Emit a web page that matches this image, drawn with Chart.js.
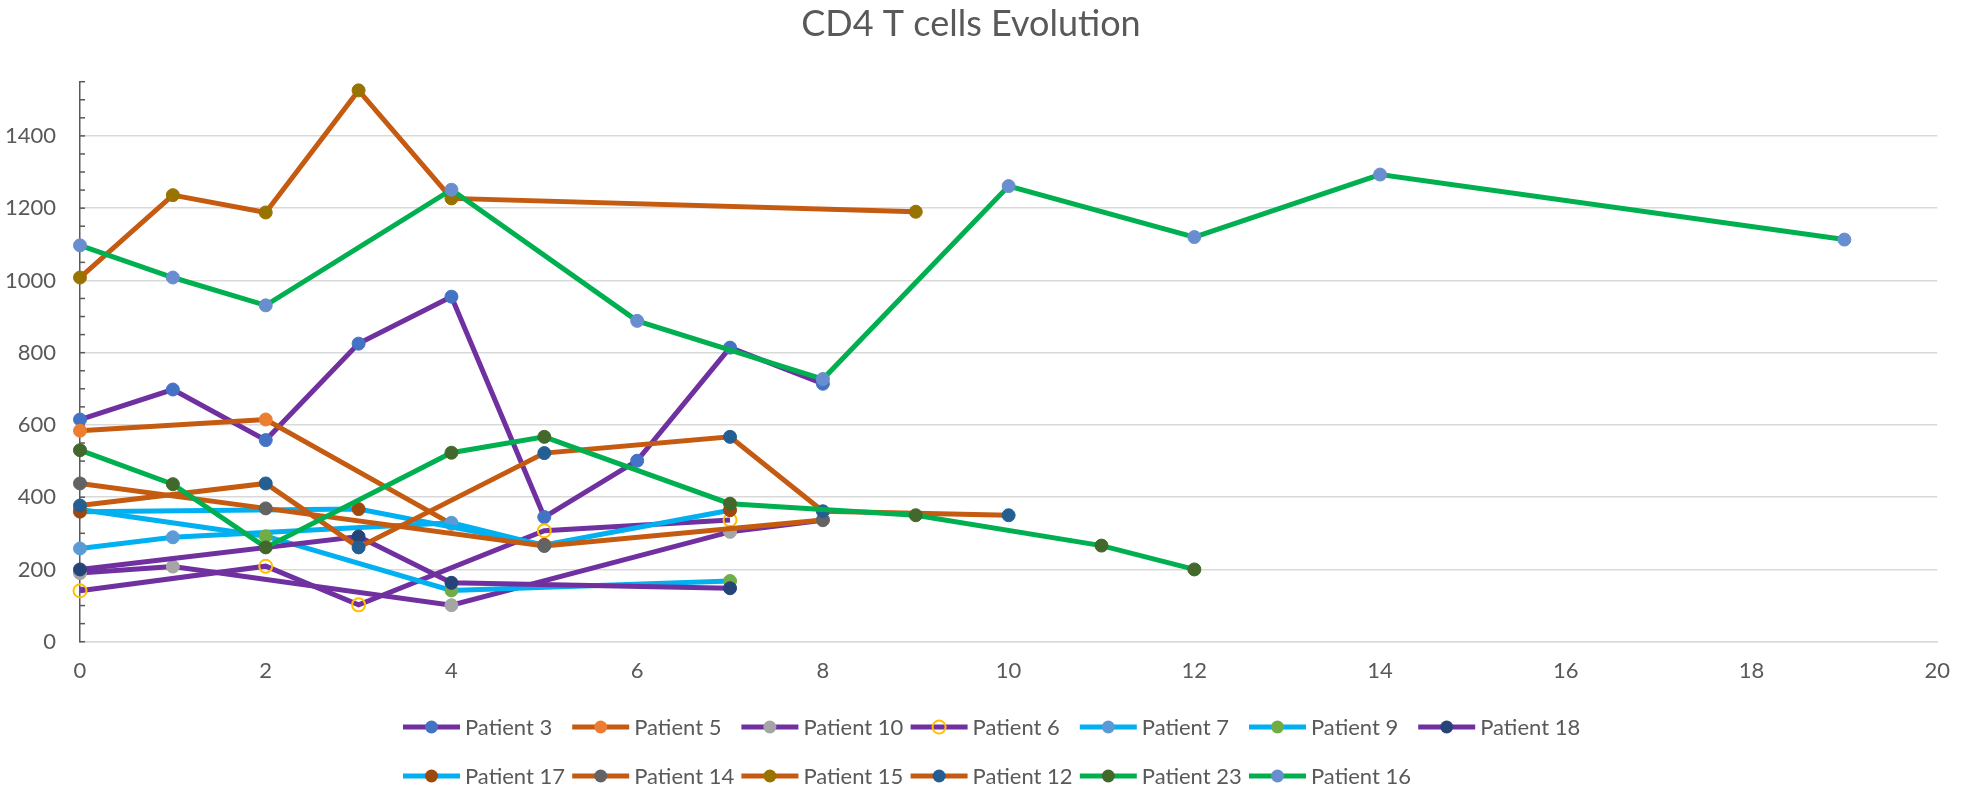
<!DOCTYPE html>
<html>
<head>
<meta charset="utf-8">
<title>CD4 T cells Evolution</title>
<script src="https://cdn.jsdelivr.net/npm/chart.js@4.4.1/dist/chart.umd.min.js"></script>
<style>
  html, body { margin: 0; padding: 0; background: #fff; }
  #wrap { width: 1966px; height: 794px; }
</style>
</head>
<body>
<div id="wrap"><canvas id="cd4Chart" width="1966" height="794"></canvas></div>
<script>
// CD4 counts per patient (x = time point)
const p3Time = [0, 1, 2, 3, 4, 5, 6, 7, 8];
const p3Cd4 = [615, 698, 558, 825, 955, 345, 501, 814, 714];
const p5Time = [0, 2, 4];
const p5Cd4 = [584, 615, 326];
const p10Time = [0, 1, 4, 7, 8];
const p10Cd4 = [190, 208, 101, 304, 336];
const p6Time = [0, 2, 3, 5, 7];
const p6Cd4 = [141, 209, 102, 307, 337];
const p7Time = [0, 1, 4, 5];
const p7Cd4 = [258, 289, 329, 266];
const p9Time = [0, 2, 4, 7];
const p9Cd4 = [366, 292, 142, 168];
const p18Time = [0, 3, 4, 7];
const p18Cd4 = [200, 291, 163, 148];
const p17Time = [0, 3, 5, 7];
const p17Cd4 = [360, 367, 268, 364];
const p14Time = [0, 2, 5, 8];
const p14Cd4 = [438, 369, 265, 337];
const p15Time = [0, 1, 2, 3, 4, 9];
const p15Cd4 = [1008, 1236, 1188, 1526, 1227, 1190];
const p12Time = [0, 2, 3, 5, 7, 8, 10];
const p12Cd4 = [377, 438, 261, 522, 567, 361, 350];
const p23Time = [0, 1, 2, 4, 5, 7, 9, 11, 12];
const p23Cd4 = [530, 436, 261, 523, 567, 382, 350, 266, 200];
const p16Time = [0, 1, 2, 4, 6, 8, 10, 12, 14, 19];
const p16Cd4 = [1097, 1008, 931, 1251, 888, 727, 1261, 1120, 1293, 1113];

const yLabelTicks = [0, 200, 400, 600, 800, 1000, 1200, 1400];

const PURPLE = '#7030A0';
const RUST = '#C55A11';
const SKY = '#00B0F0';
const GREEN = '#00B050';
const TEXT = '#595959';

const patients = [
  { label: 'Patient 3', time: p3Time, cd4: p3Cd4, line: PURPLE, marker: '#4472C4' },
  { label: 'Patient 5', time: p5Time, cd4: p5Cd4, line: RUST, marker: '#ED7D31' },
  { label: 'Patient 10', time: p10Time, cd4: p10Cd4, line: PURPLE, marker: '#A5A5A5' },
  { label: 'Patient 6', time: p6Time, cd4: p6Cd4, line: PURPLE, marker: '#FFC000', hollow: true },
  { label: 'Patient 7', time: p7Time, cd4: p7Cd4, line: SKY, marker: '#5B9BD5' },
  { label: 'Patient 9', time: p9Time, cd4: p9Cd4, line: SKY, marker: '#70AD47' },
  { label: 'Patient 18', time: p18Time, cd4: p18Cd4, line: PURPLE, marker: '#264478' },
  { label: 'Patient 17', time: p17Time, cd4: p17Cd4, line: SKY, marker: '#9E480E' },
  { label: 'Patient 14', time: p14Time, cd4: p14Cd4, line: RUST, marker: '#636363' },
  { label: 'Patient 15', time: p15Time, cd4: p15Cd4, line: RUST, marker: '#997300' },
  { label: 'Patient 12', time: p12Time, cd4: p12Cd4, line: RUST, marker: '#255E91' },
  { label: 'Patient 23', time: p23Time, cd4: p23Cd4, line: GREEN, marker: '#43682B' },
  { label: 'Patient 16', time: p16Time, cd4: p16Cd4, line: GREEN, marker: '#698ED0' }
];

Chart.defaults.font.family = 'Lato, "Open Sans", sans-serif';
Chart.defaults.color = TEXT;

// small inside tick marks every 50 on the value axis
const minorTicks = {
  id: 'minorTicks',
  beforeDatasetsDraw(chart) {
    const y = chart.scales.y;
    const ctx = chart.ctx;
    ctx.save();
    ctx.strokeStyle = '#595959';
    ctx.lineWidth = 1.5;
    for (let v = y.min; v <= y.max; v += 50) {
      const py = y.getPixelForValue(v);
      ctx.beginPath();
      ctx.moveTo(y.right, py);
      ctx.lineTo(y.right + 5, py);
      ctx.stroke();
    }
    ctx.restore();
  }
};

// Excel style legend: line with marker, two left aligned rows
const excelLegend = {
  id: 'excelLegend',
  afterDraw(chart) {
    const ctx = chart.ctx;
    ctx.save();
    ctx.font = '22px Lato';
    ctx.textBaseline = 'middle';
    patients.forEach((p, i) => {
      const row = i < 7 ? 0 : 1;
      const col = row === 0 ? i : i - 7;
      const x = 403 + col * 169.2;
      const y = row === 0 ? 727 : 776;
      ctx.strokeStyle = p.line;
      ctx.lineWidth = 5;
      ctx.beginPath();
      ctx.moveTo(x, y);
      ctx.lineTo(x + 57, y);
      ctx.stroke();
      ctx.beginPath();
      ctx.arc(x + 28.5, y, 6.5, 0, Math.PI * 2);
      if (p.hollow) {
        ctx.strokeStyle = p.marker;
        ctx.lineWidth = 2;
        ctx.stroke();
      } else {
        ctx.fillStyle = p.marker;
        ctx.fill();
      }
      ctx.fillStyle = TEXT;
      ctx.fillText(p.label, x + 62, y + 1);
    });
    ctx.restore();
  }
};

const ctx = document.getElementById('cd4Chart').getContext('2d');
const cd4Chart = new Chart(ctx, {
  type: 'line',
  data: {
    datasets: patients.map((p, i) => ({
      label: p.label,
      data: p.time.map((t, j) => ({ x: t, y: p.cd4[j] })),
      borderColor: p.line,
      backgroundColor: p.marker,
      borderWidth: 5,
      pointRadius: 6.5,
      pointBackgroundColor: p.hollow ? 'rgba(0,0,0,0)' : p.marker,
      pointBorderColor: p.marker,
      pointBorderWidth: p.hollow ? 2 : 1,
      tension: 0,
      clip: false,
      order: patients.length - i
    }))
  },
  options: {
    responsive: false,
    animation: false,
    devicePixelRatio: 1,
    layout: { padding: { left: 0, right: 24, top: 0, bottom: 112.3 } },
    plugins: {
      legend: { display: false },
      tooltip: { enabled: false },
      title: {
        display: true,
        text: 'CD4 T cells Evolution',
        color: TEXT,
        font: { size: 36, weight: 'normal', lineHeight: 1.2 },
        padding: { top: 2.4, bottom: 36.1 }
      }
    },
    scales: {
      x: {
        type: 'linear',
        min: 0,
        max: 20,
        grid: { display: false, drawTicks: false },
        border: { display: true, color: '#d9d9d9', width: 1.5 },
        ticks: { stepSize: 2, padding: 16, font: { size: 22 }, color: TEXT, maxRotation: 0 },
        afterFit(scale) { scale.height = 40; }
      },
      y: {
        min: 0,
        max: 1550,
        grid: {
          color: '#d9d9d9',
          lineWidth: 1.5,
          drawTicks: false
        },
        border: { display: true, color: '#595959', width: 1.5 },
        ticks: {
          stepSize: 50,
          autoSkip: false,
          padding: 24,
          font: { size: 22 },
          color: TEXT,
          callback: (v) => (yLabelTicks.includes(v) ? v : null)
        },
        afterFit(scale) { scale.width = 80; }
      }
    }
  },
  plugins: [minorTicks, excelLegend]
});
</script>
</body>
</html>
